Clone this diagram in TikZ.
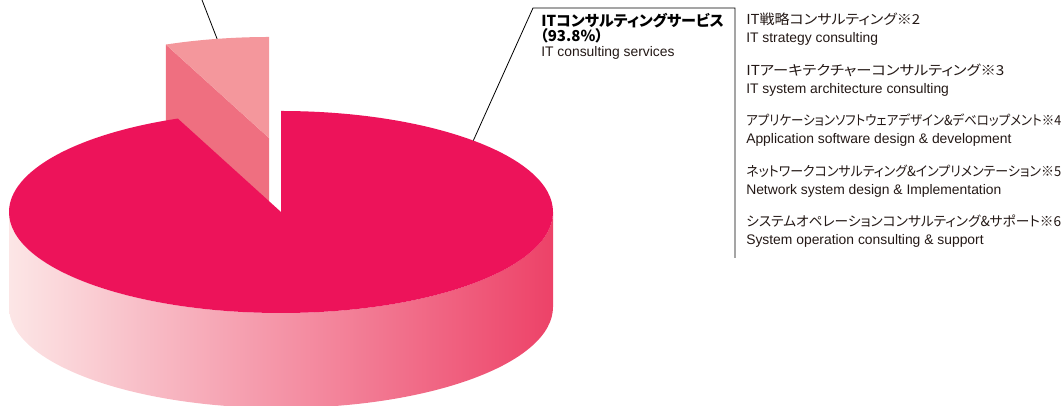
\documentclass[tikz,border=0pt]{standalone}
\usepackage{graphicx}
\usepackage{fontspec}
\setmainfont{Noto Sans CJK JP}[RawFeature=+palt]
\newfontfamily\engfont{Liberation Sans}
\usetikzlibrary{positioning,calc}

\definecolor{pietop}{RGB}{237,19,90}
\definecolor{sidel}{RGB}{252,230,230}
\definecolor{sider}{RGB}{237,66,104}
\definecolor{slctop}{RGB}{244,151,156}
\definecolor{slcside}{RGB}{239,111,128}
\definecolor{txtgray}{RGB}{35,24,21}

% fit a japanese line to the printed width
\newcommand{\jpfit}[2]{\resizebox{#1}{\height}{#2}}

\begin{document}
\begin{tikzpicture}[x=0.75pt,y=0.75pt,
    jp/.style={anchor=base west, inner sep=0pt, text=txtgray, font=\fontsize{10.3}{12}\selectfont},
    en/.style={anchor=base west, inner sep=0pt, text=txtgray, font=\engfont\fontsize{10.4}{12}\selectfont},
    lbl/.style={anchor=base west, inner sep=0pt, text=black, font=\bfseries\fontsize{11.3}{13}\selectfont},
    leader/.style={draw=black, line width=0.6pt}]
    \useasboundingbox (0,0) rectangle (1064,406);
    \clip (0,0) rectangle (1064,406);
    % pulled-out slice (6.2%)
    \coordinate (sc) at (269,268);
    \fill[slcside] (sc) -- ($(sc)+(112.3:272 and 101)$) -- ++(0,-95) -- ($(sc)+(0,-95)$) -- cycle;
    \fill[slctop] (sc) -- ++(0,101) arc[start angle=90, end angle=112.3, x radius=272, y radius=101] -- cycle;
    % main pie
    \coordinate (c) at (281,194);
    \shade[left color=sidel, right color=sider] ($(c)+(-272,0)$) arc[start angle=180, end angle=360, x radius=272, y radius=101]
        -- ++(0,-95) arc[start angle=0, end angle=-180, x radius=272, y radius=101] -- cycle;
    \fill[pietop] (c) -- ++(0,101) arc[start angle=90, end angle=-247.7, x radius=272, y radius=101] -- cycle;
    % leaders
    \coordinate (slclead) at ($(sc)+(101:272 and 101)$);
    \coordinate (offtop) at (202,406);
    \draw[leader] (slclead) -- (offtop);
    \coordinate (pielead) at ($(c)+(45:272 and 101)$);
    \coordinate (brk) at (533,398);
    \coordinate (brkr) at (735,398);
    \coordinate (brkb) at (735,148);
    \draw[leader] (pielead) -- (brk) -- (brkr) -- (brkb);
    % label
    \node[lbl] (itcs) at (541,379) {ITコンサルティングサービス};
    \node[lbl] (itcspct) at (540,364.5) {（93.8\%）};
    \node[en] (itcsen) at (541,349) {IT consulting services};
    % service list
    \node[jp] (s2) at (746,381) {\jpfit{130.5pt}{IT戦略コンサルティング※2}};
    \node[en] (s2en) at (746,363) {IT strategy consulting};
    \node[jp] (s3) at (746,330.5) {\jpfit{193.5pt}{ITアーキテクチャーコンサルティング※3}};
    \node[en] (s3en) at (746,312.5) {IT system architecture consulting};
    \node[jp] (s4) at (746,280) {\jpfit{236.2pt}{アプリケーションソフトウェアデザイン\&デベロップメント※4}};
    \node[en] (s4en) at (746,262) {Application software design \& development};
    \node[jp] (s5) at (746,229.5) {\jpfit{236.2pt}{ネットワークコンサルティング\&インプリメンテーション※5}};
    \node[en] (s5en) at (746,211.5) {Network system design \& Implementation};
    \node[jp] (s6) at (746,179) {\jpfit{236.2pt}{システムオペレーションコンサルティング\&サポート※6}};
    \node[en] (s6en) at (746,161) {System operation consulting \& support};
\end{tikzpicture}
\end{document}
